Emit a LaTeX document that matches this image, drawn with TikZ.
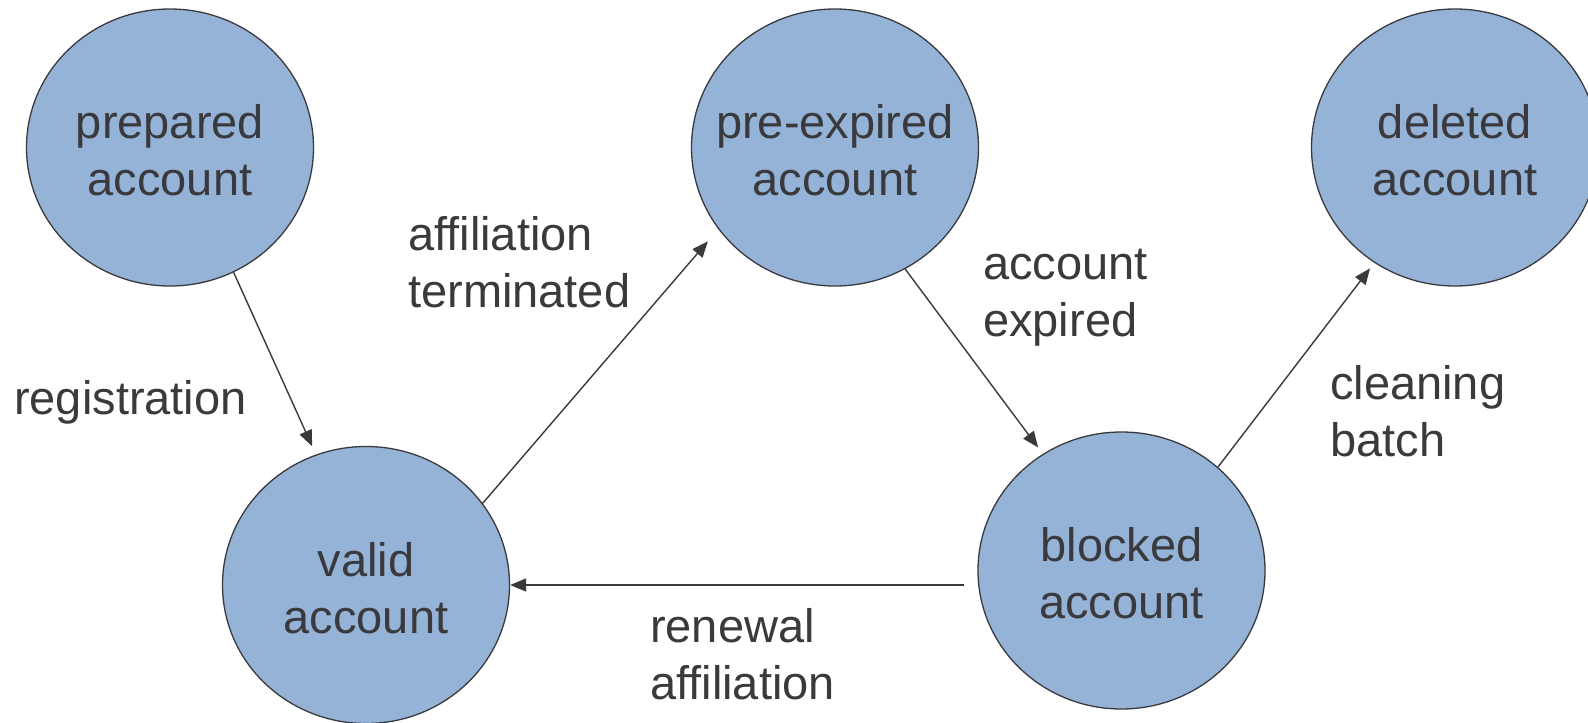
\documentclass[tikz,border=0pt]{standalone}
\usepackage{fontspec}
\setmainfont{Liberation Sans}
\usetikzlibrary{shapes.geometric,arrows.meta}
\definecolor{stfill}{HTML}{95B3D7}
\definecolor{ink}{HTML}{3A3A3E}
\newcommand\zc[1]{\makebox[0pt][c]{#1}}
\newcommand\zt[1]{\makebox[0pt][c]{\rule{0pt}{40pt}#1}}
\begin{document}
\begin{tikzpicture}[x=1pt,y=-1pt,
  state/.style={ellipse, draw=ink, line width=1.3pt, fill=stfill, minimum width=287pt, minimum height=277pt, inner sep=0pt, text=ink, align=center, font=\fontsize{47}{57}\selectfont},
  lbl/.style={anchor=base west, align=left, text=ink, font=\fontsize{47}{57}\selectfont, inner sep=0pt},
  arr/.style={draw=ink, line width=1.4pt, -{Triangle[length=16pt,width=13pt]}}]
\useasboundingbox[fill=white] (0,0) rectangle (1588,723);
\node[state] (prep) at (170,147.5) {\zt{prepared}\\\zc{account}};
\node[state] (preexp) at (835,147.5) {\zt{pre-expired}\\\zc{account}};
\node[state] (deleted) at (1455,147.5) {\zt{deleted}\\\zc{account}};
\node[state] (valid) at (366,585) {\zt{valid}\\\zc{account}};
\node[state] (blocked) at (1121.5,570.5) {\zt{blocked}\\\zc{account}};
\draw[arr, shorten >=9pt] (prep.-63) -- (valid.111);
\draw[arr, shorten >=16pt] (valid.35) -- (preexp.215);
\draw[arr, shorten >=8pt] (preexp.-60) -- (blocked.124);
\draw[arr, shorten >=7pt] (blocked.47) -- (deleted.235);
\draw[arr] ([xshift=-13pt]valid.east -| blocked.west) -- (valid.east);
\node[lbl] (lreg) at (14,414) {registration};
\node[lbl] (laff) at (408,307) {affiliation\\terminated};
\node[lbl] (lexp) at (983,336) {account\\expired};
\node[lbl] (lclean) at (1330,456) {cleaning\\batch};
\node[lbl] (lren) at (650,699) {renewal\\affiliation};
\end{tikzpicture}
\end{document}
